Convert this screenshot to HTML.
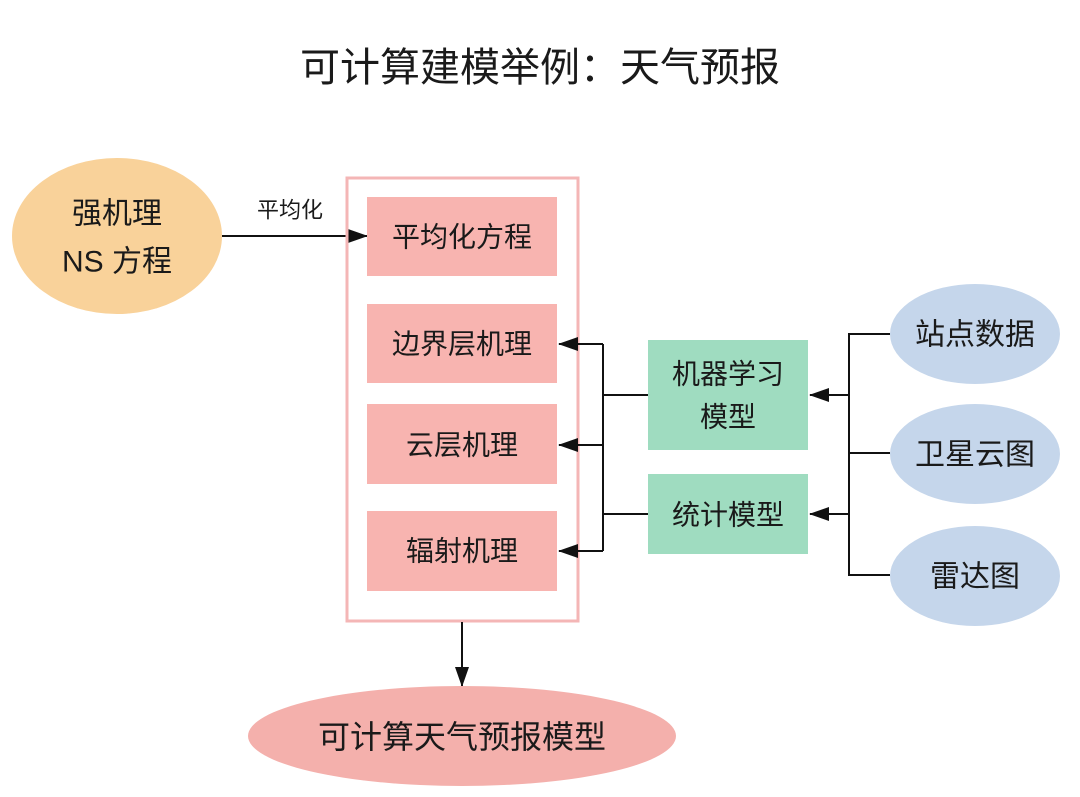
<!DOCTYPE html>
<html><head><meta charset="utf-8"><style>
html,body{margin:0;padding:0;background:#fff;}
svg{display:block;}
text{font-family:"Liberation Sans","Noto Sans CJK SC",sans-serif;fill:#1a1a1a;text-anchor:middle;dominant-baseline:central;}
</style></head><body>
<svg width="1080" height="797" viewBox="0 0 1080 797" xmlns="http://www.w3.org/2000/svg">
<defs>
<marker id="a" markerWidth="10" markerHeight="10" refX="9" refY="5" orient="auto" markerUnits="userSpaceOnUse" viewBox="0 0 10 10">
<path d="M0,0 L10,5 L0,10 z" fill="#111"/></marker>
<marker id="b" markerWidth="20" markerHeight="14" refX="19" refY="7" orient="auto" markerUnits="userSpaceOnUse" viewBox="0 0 20 14">
<path d="M0,0 L20,7 L0,14 z" fill="#111"/></marker>
</defs>
<text x="540" y="68" font-size="40">可计算建模举例：天气预报</text>

<ellipse cx="117" cy="236" rx="105" ry="78" fill="#f9d29a"/>
<text x="117" y="214" font-size="30">强机理</text>
<text x="117" y="262" font-size="30">NS 方程</text>
<line x1="222" y1="236" x2="367" y2="236" stroke="#111" stroke-width="2" marker-end="url(#b)"/>
<text x="290" y="210" font-size="22">平均化</text>

<rect x="347" y="178" width="231" height="443" fill="none" stroke="#f4b6b6" stroke-width="3"/>
<rect x="367" y="197" width="190" height="79" fill="#f8b4b0"/>
<rect x="367" y="304" width="190" height="79" fill="#f8b4b0"/>
<rect x="367" y="404" width="190" height="80" fill="#f8b4b0"/>
<rect x="367" y="511" width="190" height="80" fill="#f8b4b0"/>
<text x="462" y="237" font-size="28">平均化方程</text>
<text x="462" y="344" font-size="28">边界层机理</text>
<text x="462" y="445" font-size="28">云层机理</text>
<text x="462" y="551" font-size="28">辐射机理</text>

<g stroke="#111" stroke-width="2" fill="none">
<polyline points="603,344 603,551"/>
<line x1="603" y1="344" x2="559" y2="344" marker-end="url(#b)"/>
<line x1="603" y1="445" x2="559" y2="445" marker-end="url(#b)"/>
<line x1="603" y1="551" x2="559" y2="551" marker-end="url(#b)"/>
<line x1="603" y1="395" x2="648" y2="395"/>
<line x1="603" y1="514" x2="648" y2="514"/>
<polyline points="890,334 849,334 849,575 890,575"/>
<line x1="849" y1="453" x2="890" y2="453"/>
<line x1="849" y1="395" x2="810" y2="395" marker-end="url(#b)"/>
<line x1="849" y1="514" x2="810" y2="514" marker-end="url(#b)"/>
<line x1="462" y1="622" x2="462" y2="686" marker-end="url(#b)"/>
</g>

<rect x="648" y="340" width="160" height="110" fill="#9fdcc0"/>
<rect x="648" y="474" width="160" height="80" fill="#9fdcc0"/>
<text x="728" y="374" font-size="28">机器学习</text>
<text x="728" y="417" font-size="28">模型</text>
<text x="728" y="515" font-size="28">统计模型</text>

<ellipse cx="975" cy="334" rx="85" ry="50" fill="#c5d6eb"/>
<ellipse cx="975" cy="454" rx="85" ry="50" fill="#c5d6eb"/>
<ellipse cx="975" cy="576" rx="85" ry="50" fill="#c5d6eb"/>
<text x="975" y="335" font-size="30">站点数据</text>
<text x="975" y="455" font-size="30">卫星云图</text>
<text x="975" y="577" font-size="30">雷达图</text>

<ellipse cx="462" cy="736" rx="214" ry="50" fill="#f4b0ac"/>
<text x="462" y="737" font-size="32">可计算天气预报模型</text>
</svg>
</body></html>
